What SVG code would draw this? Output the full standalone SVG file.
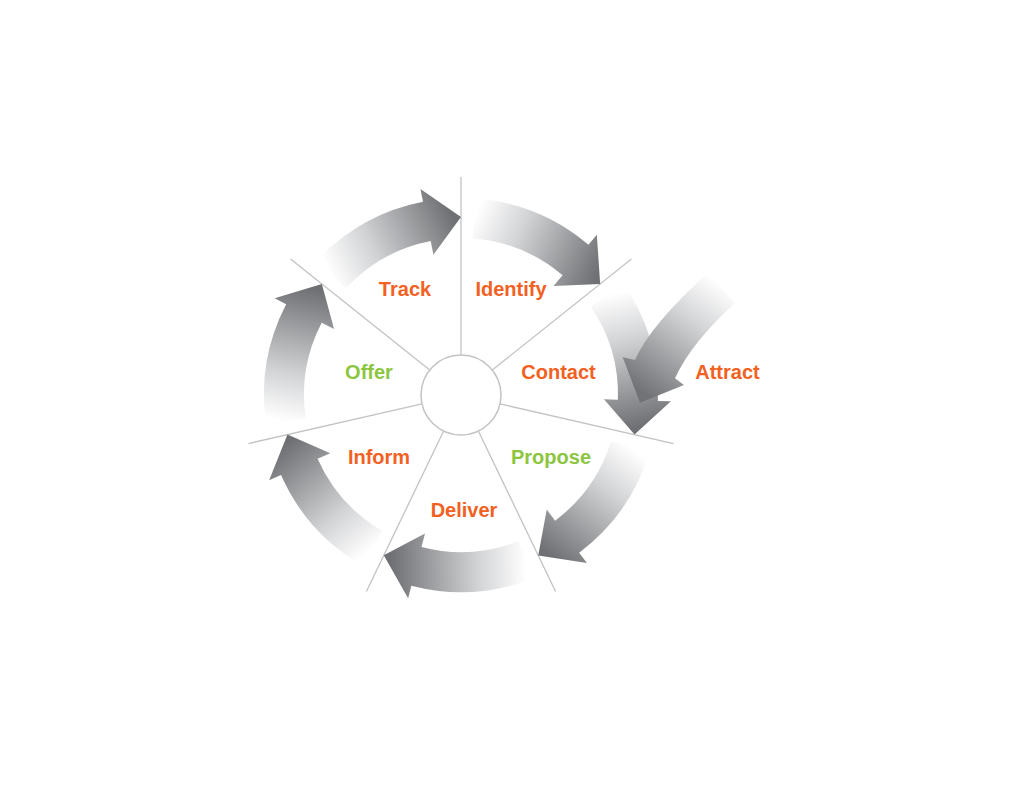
<svg xmlns="http://www.w3.org/2000/svg" width="1024" height="791" viewBox="0 0 1024 791">
  <style>
    .spoke { stroke: #c2c3c5; stroke-width: 1.3; fill: none; }
    .hub { stroke: #c2c3c5; stroke-width: 1.5; fill: #ffffff; }
    .lbl { font-family: "Liberation Sans", Arial, sans-serif; font-weight: bold; font-size: 20px; text-anchor: middle; }
    .or { fill: #f26122; }
    .gr { fill: #8cc63f; }
  </style>
  <defs>
    <linearGradient id="ag" gradientUnits="userSpaceOnUse" x1="13" y1="-177" x2="136" y2="-120">
      <stop offset="0" stop-color="#ffffff"/>
      <stop offset="0.35" stop-color="#d3d4d6"/>
      <stop offset="1" stop-color="#6f7073"/>
    </linearGradient>
    <linearGradient id="atg" gradientUnits="userSpaceOnUse" x1="724" y1="286" x2="645" y2="395">
      <stop offset="0" stop-color="#ffffff"/>
      <stop offset="0.35" stop-color="#d3d4d6"/>
      <stop offset="1" stop-color="#717275"/>
    </linearGradient>
    <path id="arc" d="M 14.77,-196.45 A 197 197 0 0 1 127.42,-150.25 L 135.83,-160.16 L 139.17,-110.98 L 92.49,-109.06 L 101.55,-119.74 A 157 157 0 0 0 11.77,-156.56 Z" fill="url(#ag)"/>
  </defs>
  <rect width="1024" height="791" fill="#ffffff"/>
  <g id="connectors" transform="translate(461 395)">
    <line class="spoke" x1="0" y1="-40" x2="0" y2="-218" transform="rotate(0)"/>
    <line class="spoke" x1="0" y1="-40" x2="0" y2="-218" transform="rotate(51.4286)"/>
    <line class="spoke" x1="0" y1="-40" x2="0" y2="-218" transform="rotate(102.857)"/>
    <line class="spoke" x1="0" y1="-40" x2="0" y2="-218" transform="rotate(154.286)"/>
    <line class="spoke" x1="0" y1="-40" x2="0" y2="-218" transform="rotate(205.714)"/>
    <line class="spoke" x1="0" y1="-40" x2="0" y2="-218" transform="rotate(257.143)"/>
    <line class="spoke" x1="0" y1="-40" x2="0" y2="-218" transform="rotate(308.571)"/>
  </g>
  <g id="hub">
    <circle class="hub" cx="461" cy="395" r="40"/>
  </g>
  <g id="track">
    <use href="#arc" transform="translate(461 395) rotate(-51.4286)"/>
    <text class="lbl or" x="405" y="296">Track</text>
  </g>
  <g id="identify">
    <use href="#arc" transform="translate(461 395)"/>
    <text class="lbl or" x="511" y="296">Identify</text>
  </g>
  <g id="contact">
    <use href="#arc" transform="translate(461 395) rotate(51.4286)"/>
    <text class="lbl or" x="558.5" y="378.5">Contact</text>
  </g>
  <g id="propose">
    <use href="#arc" transform="translate(461 395) rotate(102.857)"/>
    <text class="lbl gr" x="551" y="463.5">Propose</text>
  </g>
  <g id="deliver">
    <use href="#arc" transform="translate(461 395) rotate(154.286)"/>
    <text class="lbl or" x="464" y="516.5">Deliver</text>
  </g>
  <g id="inform">
    <use href="#arc" transform="translate(461 395) rotate(205.714)"/>
    <text class="lbl or" x="379" y="463.5">Inform</text>
  </g>
  <g id="offer">
    <use href="#arc" transform="translate(461 395) rotate(257.143)"/>
    <text class="lbl gr" x="369" y="378.5">Offer</text>
  </g>
  <g id="attract">
    <path d="M 708,273 Q 651,324 635,360 L 622.7,357.3 L 640,402.7 L 684,385 L 675,378.3 Q 691,343 735,303 Z" fill="url(#atg)"/>
    <text class="lbl or" x="727.5" y="378.5">Attract</text>
  </g>
</svg>
